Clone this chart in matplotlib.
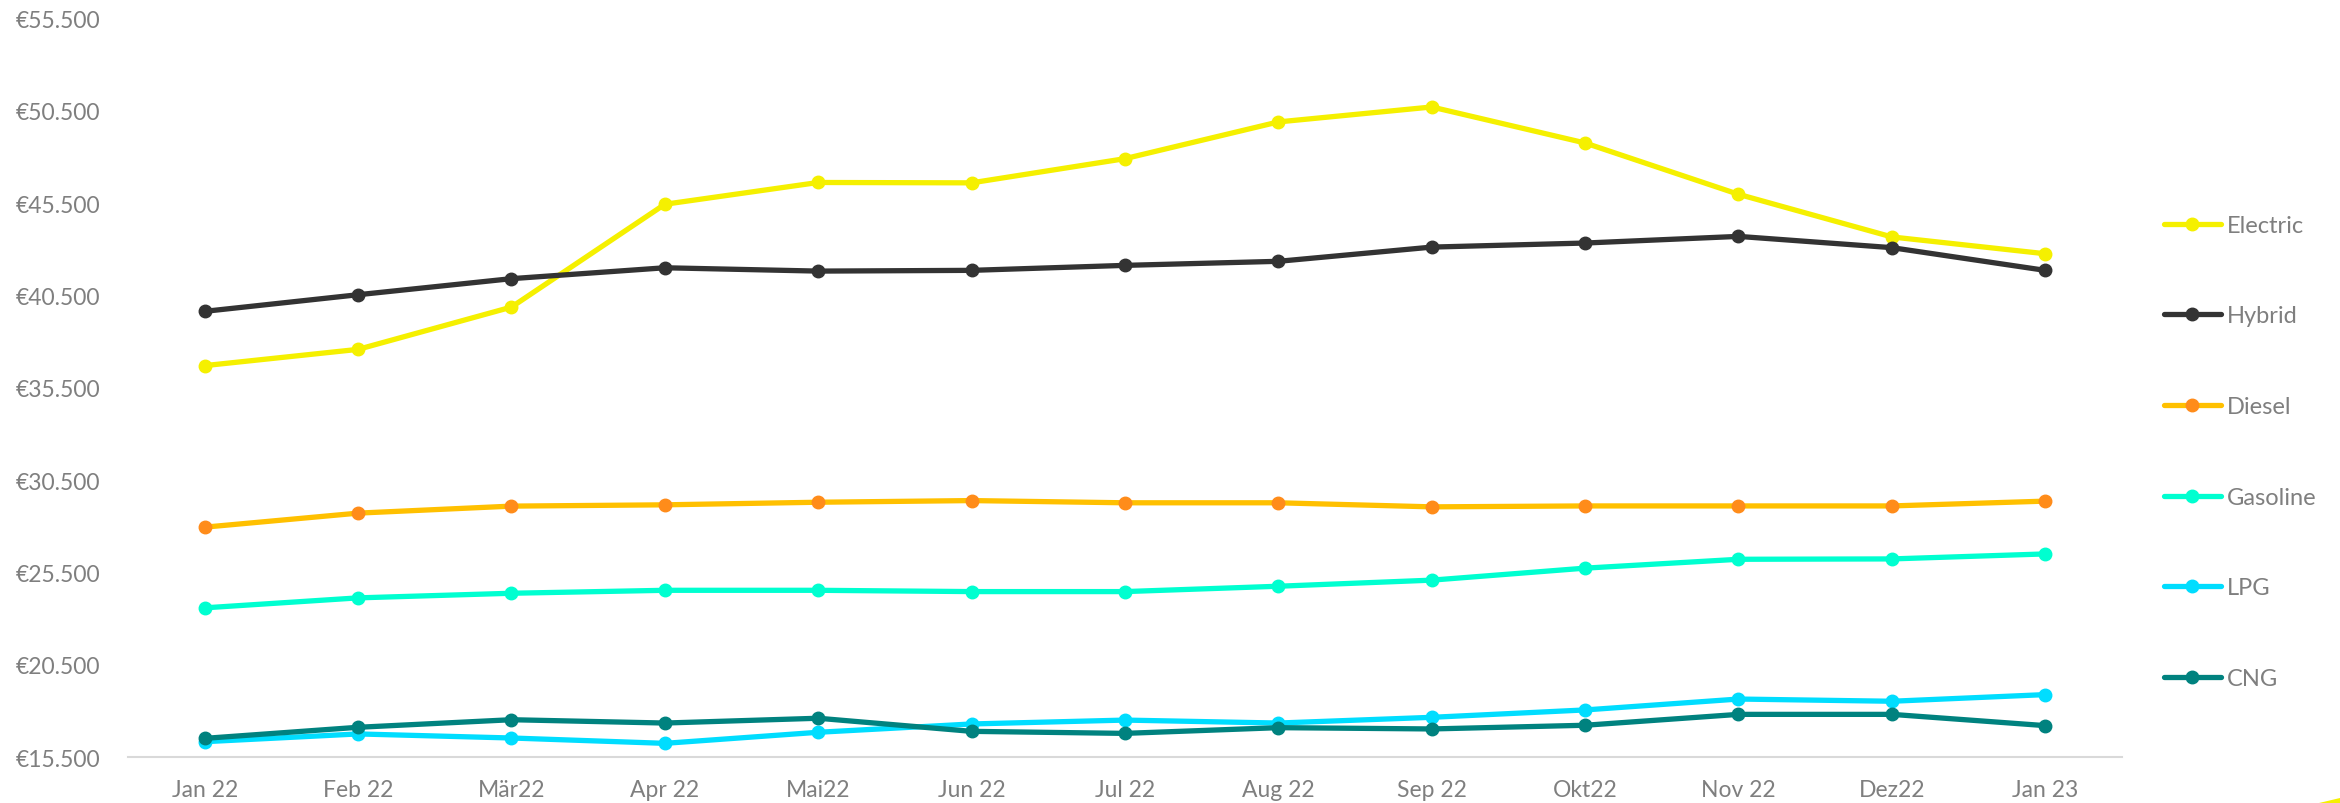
#Fahrzeugpreise nach Antriebsart
import matplotlib
matplotlib.use("Agg")
import matplotlib.pyplot as plt
from matplotlib.ticker import FuncFormatter
from matplotlib.patches import Polygon
import numpy as np

#data
months = ['Jan 22', 'Feb 22', 'Mär22', 'Apr 22', 'Mai22', 'Jun 22', 'Jul 22',
          'Aug 22', 'Sep 22', 'Okt22', 'Nov 22', 'Dez22', 'Jan 23']

electric = [36700, 37580, 39870, 45440, 46620, 46600, 47910, 49900, 50710, 48760, 45980, 43670, 42760]
hybrid = [39640, 40540, 41410, 42000, 41820, 41860, 42130, 42350, 43120, 43340, 43700, 43090, 41860]
diesel = [27950, 28710, 29090, 29160, 29300, 29390, 29270, 29270, 29050, 29100, 29100, 29100, 29360]
gasoline = [23580, 24120, 24370, 24530, 24530, 24460, 24460, 24750, 25080, 25730, 26210, 26230, 26500]
lpg = [16330, 16750, 16530, 16240, 16840, 17290, 17500, 17340, 17650, 18050, 18640, 18520, 18880]
cng = [16510, 17110, 17520, 17340, 17600, 16890, 16780, 17090, 17020, 17220, 17810, 17810, 17200]

names = ['Electric', 'Hybrid', 'Diesel', 'Gasoline', 'LPG', 'CNG']
series = [electric, hybrid, diesel, gasoline, lpg, cng]
line_colors = ['#F5F000', '#333333', '#FFC000', '#00FFD0', '#00DDFF', '#00827F']
marker_colors = ['#F5F000', '#333333', '#FF8C1A', '#00FFD0', '#00DDFF', '#00827F']

grey = '#7F7F7F'
plt.rcParams['font.family'] = ['Lato', 'DejaVu Sans']

fig = plt.figure(figsize=(23.4, 8.04), dpi=100)
ax = fig.add_axes([0.0547, 0.0572, 0.9068 - 0.0547, 0.9757 - 0.0572])

x = np.arange(len(months))
for name, vals, lc, mc in zip(names, series, line_colors, marker_colors):
    ax.plot(x, vals, color=lc, linewidth=3.8, marker='o', markersize=9,
            markerfacecolor=mc, markeredgecolor=mc, label=name, solid_capstyle='round')

ax.set_xlim(-0.5, 12.5)
ax.set_ylim(15500, 55500)
ax.set_yticks(np.arange(15500, 55501, 5000))
ax.yaxis.set_major_formatter(FuncFormatter(lambda v, p: '€' + f'{v:,.0f}'.replace(',', '.')))
ax.set_xticks(x)
ax.set_xticklabels(months)

for s in ['top', 'right', 'left']:
    ax.spines[s].set_visible(False)
ax.spines['bottom'].set_color('#D9D9D9')
ax.spines['bottom'].set_linewidth(1.5)
ax.tick_params(axis='both', length=0, labelcolor=grey, labelsize=16.5)
ax.tick_params(axis='x', pad=16)
ax.tick_params(axis='y', pad=20)

leg = fig.legend(loc='center left', bbox_to_anchor=(0.9248, 0.4366), frameon=False,
                 borderpad=0, borderaxespad=0, handlelength=2.4, handletextpad=0.25,
                 labelspacing=2.95, fontsize=17, labelcolor=grey)

# little yellow corner mark
fig.patches.append(Polygon([(0.991, 0), (1, 0), (1, 0.006)], closed=True,
                           transform=fig.transFigure, facecolor='#F5F000', edgecolor='none'))

plt.savefig('out.png', dpi=100)
